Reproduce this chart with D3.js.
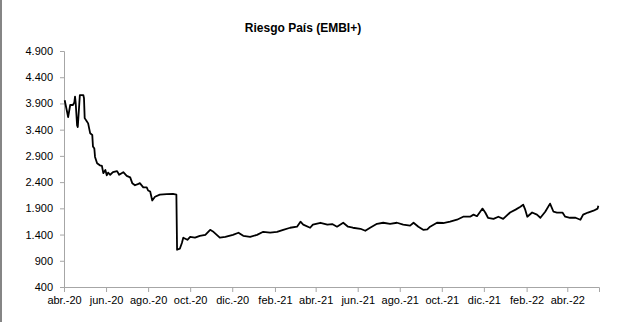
<!DOCTYPE html>
<html>
<head>
<meta charset="utf-8">
<script src="https://cdn.jsdelivr.net/npm/d3@7"></script>
<style>
  body { margin: 0; background: #fff; }
  svg { display: block; font-family: "Liberation Sans", Arial, sans-serif; }
</style>
</head>
<body>
<svg id="chart" width="617" height="322"></svg>
<script>
const title = 'Riesgo País (EMBI+)';

// fechas y valores
const dates = [
  '2020-04-02','2020-04-05','2020-04-07','2020-04-10','2020-04-14','2020-04-16','2020-04-17','2020-04-18',
  '2020-04-20','2020-04-21','2020-04-24','2020-04-29','2020-04-30','2020-05-01','2020-05-04','2020-05-06',
  '2020-05-09','2020-05-12','2020-05-13','2020-05-15','2020-05-16','2020-05-19','2020-05-20','2020-05-23',
  '2020-05-26','2020-05-28','2020-05-31','2020-06-02','2020-06-04','2020-06-07','2020-06-11','2020-06-17',
  '2020-06-20','2020-06-26','2020-07-01','2020-07-06','2020-07-09','2020-07-13','2020-07-17','2020-07-20',
  '2020-07-25','2020-07-30','2020-08-01','2020-08-04','2020-08-07','2020-08-11','2020-08-18','2020-08-28',
  '2020-09-06','2020-09-11','2020-09-12','2020-09-16','2020-09-19','2020-09-21','2020-09-24','2020-09-27',
  '2020-10-01','2020-10-08','2020-10-15','2020-10-23','2020-10-30','2020-11-03','2020-11-09','2020-11-13',
  '2020-11-21','2020-12-02','2020-12-10','2020-12-17','2020-12-27','2021-01-06','2021-01-15','2021-01-25',
  '2021-02-04','2021-02-13','2021-02-23','2021-03-05','2021-03-10','2021-03-14','2021-03-24','2021-03-28',
  '2021-04-08','2021-04-18','2021-04-25','2021-05-02','2021-05-11','2021-05-18','2021-05-25','2021-06-05',
  '2021-06-12','2021-06-19','2021-06-29','2021-07-08','2021-07-18','2021-07-28','2021-08-06','2021-08-16',
  '2021-08-21','2021-08-28','2021-09-04','2021-09-10','2021-09-14','2021-09-24','2021-10-03','2021-10-13',
  '2021-10-23','2021-11-01','2021-11-11','2021-11-16','2021-11-21','2021-11-29','2021-12-03','2021-12-07',
  '2021-12-15','2021-12-22','2021-12-29','2022-01-08','2022-01-16','2022-01-23','2022-01-27','2022-01-30',
  '2022-02-02','2022-02-09','2022-02-16','2022-02-21','2022-02-28','2022-03-07','2022-03-12','2022-03-17',
  '2022-03-25','2022-03-29','2022-04-05','2022-04-13','2022-04-20','2022-04-24','2022-05-01','2022-05-09',
  '2022-05-15','2022-05-16'
];
const values = [
  3960,3770,3640,3870,3870,3920,4030,3900,
  3480,3450,4060,4060,4000,3620,3560,3520,
  3330,3300,3080,3040,2880,2760,2750,2720,
  2710,2570,2630,2530,2580,2540,2590,2610,
  2540,2590,2520,2490,2380,2340,2360,2380,
  2300,2300,2240,2220,2050,2120,2160,2170,
  2175,2160,1110,1130,1240,1340,1320,1300,
  1357,1340,1375,1395,1490,1460,1390,1340,
  1357,1395,1435,1375,1357,1395,1453,1435,
  1450,1490,1530,1550,1645,1590,1530,1590,
  1625,1590,1600,1550,1625,1550,1530,1510,
  1472,1530,1605,1625,1605,1625,1590,1570,
  1625,1550,1490,1500,1550,1625,1620,1645,
  1683,1740,1740,1780,1750,1895,1820,1720,
  1700,1740,1700,1820,1875,1930,1970,1875,
  1740,1820,1780,1720,1835,1990,1835,1820,
  1820,1740,1720,1720,1683,1780,1820,1855,
  1895,1950
];

const yTicks = [400, 900, 1400, 1900, 2400, 2900, 3400, 3900, 4400, 4900];
const xTicks = ['2020-04-01','2020-06-01','2020-08-01','2020-10-01','2020-12-01','2021-02-01',
  '2021-04-01','2021-06-01','2021-08-01','2021-10-01','2021-12-01','2022-02-01','2022-04-01'];
const xLabels = ['abr.-20','jun.-20','ago.-20','oct.-20','dic.-20','feb.-21','abr.-21',
  'jun.-21','ago.-21','oct.-21','dic.-21','feb.-22','abr.-22'];

const parse = d3.timeParse('%Y-%m-%d');
const data = dates.map((d, i) => ({date: parse(d), value: values[i]}));

const es = d3.formatLocale({decimal: ',', thousands: '.', grouping: [3], currency: ['$', '']});
const fmt = es.format(',d');

const svg = d3.select('#chart');

// borde izquierdo del marco
svg.append('line')
  .attr('x1', 1).attr('x2', 1).attr('y1', 0).attr('y2', 322)
  .attr('stroke', '#858585').attr('stroke-width', 2);

const x = d3.scaleTime()
  .domain([parse('2020-04-01'), parse('2022-05-17')])
  .range([64, 599]);
const y = d3.scaleLinear().domain([400, 4900]).range([287, 51]);

svg.append('text')
  .attr('x', 303).attr('y', 32)
  .attr('text-anchor', 'middle')
  .style('font-size', '12px').style('font-weight', 'bold')
  .text(title);

const yAxis = svg.append('g')
  .attr('transform', 'translate(64,0)')
  .call(d3.axisLeft(y).tickValues(yTicks).tickFormat(fmt).tickSize(4).tickPadding(7));

const xAxis = svg.append('g')
  .attr('transform', 'translate(0,287)')
  .call(d3.axisBottom(x).tickValues(xTicks.map(parse))
    .tickFormat((d, i) => xLabels[i]).tickSize(5).tickPadding(4));

[yAxis, xAxis].forEach(g => {
  g.select('.domain').attr('stroke', '#a6a6a6').attr('stroke-width', 1);
  g.selectAll('.tick line').attr('stroke', '#a6a6a6');
  g.selectAll('.tick text').attr('fill', '#000').style('font-size', '11px')
    .style('font-family', '"Liberation Sans", Arial, sans-serif');
});

const line = d3.line()
  .x(d => x(d.date))
  .y(d => y(d.value));

svg.append('path')
  .datum(data)
  .attr('fill', 'none')
  .attr('stroke', '#000')
  .attr('stroke-width', 1.8)
  .attr('stroke-linejoin', 'round')
  .attr('d', line);
</script>
</body>
</html>
